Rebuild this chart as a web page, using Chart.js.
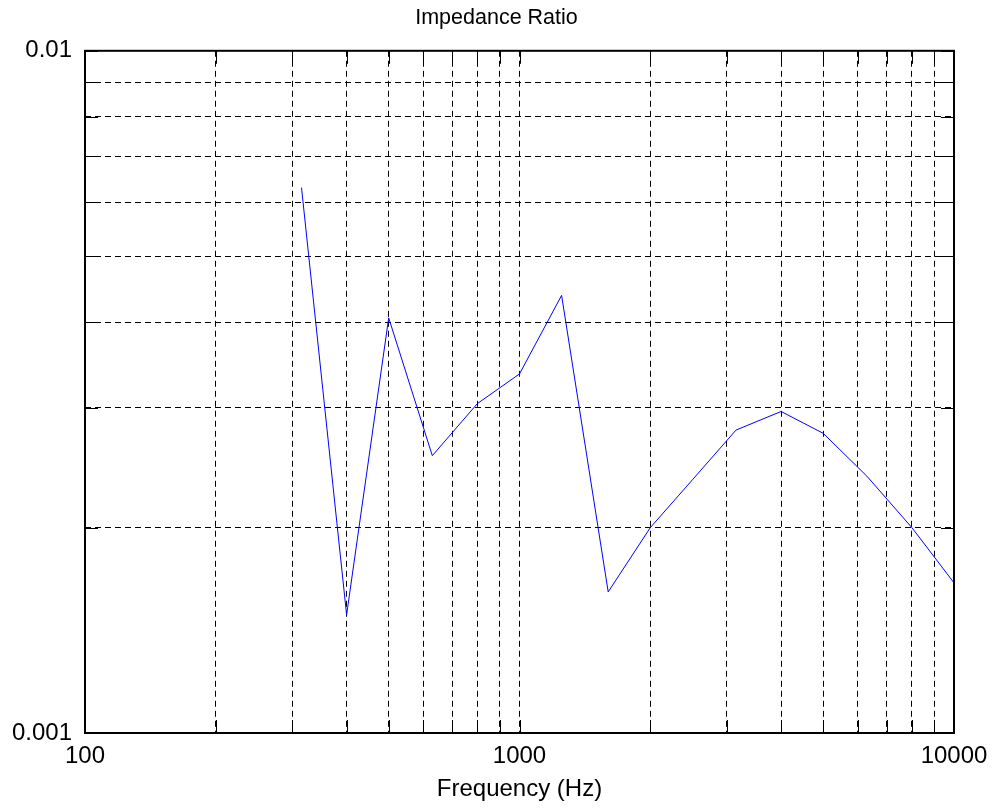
<!DOCTYPE html>
<html>
<head>
<meta charset="utf-8">
<script src="https://cdn.jsdelivr.net/npm/chart.js@4"></script>
<style>
  html, body { margin: 0; padding: 0; background: #fff; }
  #wrap { width: 993px; height: 812px; }
</style>
</head>
<body>
<div id="wrap"><canvas id="ratioChart" width="993" height="812"></canvas></div>
<script>
// 1/3 octave bands and the measured ratio
const freqHz = [315, 400, 500, 630, 800, 1000, 1250, 1600, 2000, 2500, 3150, 4000, 5000, 6300, 8000, 10000];
const ratio = [0.0063, 0.00149, 0.00406, 0.00255, 0.00304, 0.00336, 0.00438, 0.00161, 0.0020, 0.00235, 0.00278, 0.00296, 0.00275, 0.00238, 0.0020, 0.00166];

// grid / tick positions
const xTickValues = [100, 200, 300, 400, 500, 600, 700, 800, 900, 1000, 2000, 3000, 4000, 5000, 6000, 7000, 8000, 9000, 10000];
const xTickLabels = ['100', '1000', '10000'];
const yTickValues = [0.001, 0.002, 0.003, 0.004, 0.005, 0.006, 0.007, 0.008, 0.009, 0.01];
const yTickLabels = ['0.001', '0.01'];

// box around the plot + small inward ticks on every side (like the original)
const frameBox = {
    id: 'frameBox',
    afterDraw(chart) {
        const { ctx, chartArea: a, scales } = chart;
        const len = 13;
        ctx.save();
        ctx.strokeStyle = '#000';
        ctx.lineWidth = 1;
        ctx.setLineDash([]);
        ctx.beginPath();
        xTickValues.forEach(v => {
            const px = Math.round(scales.x.getPixelForValue(v)) + 0.5;
            ctx.moveTo(px, a.top); ctx.lineTo(px, a.top + len);
            ctx.moveTo(px, a.bottom); ctx.lineTo(px, a.bottom - len);
        });
        yTickValues.forEach(v => {
            const py = Math.round(scales.y.getPixelForValue(v)) + 0.5;
            ctx.moveTo(a.left, py); ctx.lineTo(a.left + len, py);
            ctx.moveTo(a.right, py); ctx.lineTo(a.right - len, py);
        });
        ctx.stroke();
        ctx.lineWidth = 2;
        ctx.strokeRect(a.left, a.top, a.right - a.left, a.bottom - a.top);
        ctx.restore();
    }
};

const ctx = document.getElementById('ratioChart').getContext('2d');
new Chart(ctx, {
    type: 'line',
    data: {
        datasets: [{
            data: freqHz.map((f, i) => ({ x: f, y: ratio[i] })),
            yAxisID: 'y',
            borderColor: '#0000ff',
            borderWidth: 1,
            pointRadius: 0,
            tension: 0,
            fill: false
        }]
    },
    options: {
        responsive: false,
        animation: false,
        layout: { padding: 0 },
        plugins: {
            legend: { display: false },
            tooltip: { enabled: false },
            title: {
                display: true,
                text: 'Impedance Ratio',
                color: '#000',
                font: { family: 'Liberation Sans', size: 21.5, weight: 'normal' },
                padding: { top: 5, bottom: 20 }
            }
        },
        scales: {
            x: {
                type: 'logarithmic',
                min: 100,
                max: 10000,
                afterBuildTicks: s => { s.ticks = xTickValues.map(v => ({ value: v })); },
                afterFit: s => { s.height = 79; s.paddingLeft = 0; s.paddingRight = 0; },
                ticks: {
                    autoSkip: false,
                    maxRotation: 0,
                    padding: 9,
                    color: '#000',
                    font: { family: 'Liberation Sans', size: 24 },
                    callback: v => xTickLabels.includes(String(v)) ? String(v) : ''
                },
                grid: { color: '#000', lineWidth: 1, drawTicks: false },
                border: { display: false, dash: [6, 4] },
                title: {
                    display: true,
                    text: 'Frequency (Hz)',
                    color: '#000',
                    font: { family: 'Liberation Sans', size: 24 },
                    padding: { top: 0, bottom: 8 }
                }
            },
            y: {
                type: 'logarithmic',
                min: 0.001,
                max: 0.01,
                afterBuildTicks: s => { s.ticks = yTickValues.map(v => ({ value: v })); },
                afterFit: s => { s.width = 85; },
                ticks: {
                    autoSkip: false,
                    padding: 13,
                    color: '#000',
                    font: { family: 'Liberation Sans', size: 24 },
                    callback: v => {
                        const t = String(+v.toPrecision(3));
                        return yTickLabels.includes(t) ? t : '';
                    }
                },
                grid: { color: '#000', lineWidth: 1, drawTicks: false },
                border: { display: false, dash: [6, 4] }
            },
            // empty strip on the right so the plot ends where the original does
            yRight: {
                type: 'linear',
                position: 'right',
                grid: { display: false },
                ticks: { display: false },
                border: { display: false },
                afterFit: s => { s.width = 39; }
            }
        }
    },
    plugins: [frameBox]
});
</script>
</body>
</html>
